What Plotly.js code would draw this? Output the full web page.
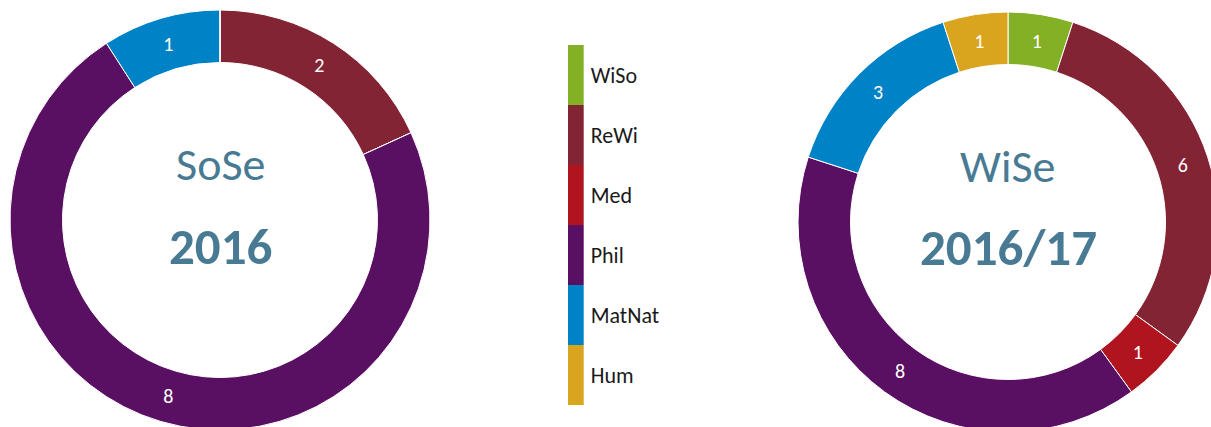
<!DOCTYPE html>
<html>
<head>
<meta charset="utf-8">
<script src="https://cdn.plot.ly/plotly-3.0.1.min.js"></script>
<style>
html,body{margin:0;padding:0;overflow:hidden;background:#fff;width:1211px;height:427px;}
#chart{width:1225px;height:440px;}
</style>
</head>
<body>
<div id="chart"></div>
<script>
// Data
const categories = ["WiSo", "ReWi", "Med", "Phil", "MatNat", "Hum"];
const colors = ["#84b026", "#832434", "#b0141e", "#590f62", "#0082c6", "#daa51e"];
const sose2016 = [0, 2, 0, 8, 1, 0];
const wise2016 = [1, 6, 1, 8, 3, 1];
const legendUnits = [1, 1, 1, 1, 1, 1];
const centerLabels = [["SoSe", "2016"], ["WiSe", "2016/17"]];

const W = 1225, H = 440;
const FONT = "Carlito, Lato, sans-serif";
const px = v => v / W;
const py = v => 1 - v / H;

function donut(values, cx, cy, r) {
  return {
    type: "pie",
    labels: categories,
    values: values,
    sort: false,
    direction: "clockwise",
    rotation: 0,
    hole: 0.75,
    marker: {colors: colors, line: {color: "#ffffff", width: 1}},
    textinfo: "value",
    textposition: "inside",
    insidetextorientation: "horizontal",
    textfont: {color: "#ffffff", size: 20, family: FONT},
    hoverinfo: "skip",
    showlegend: false,
    domain: {x: [px(cx - r), px(cx + r)], y: [py(cy + r), py(cy - r)]}
  };
}

const pies = [
  donut(sose2016, 220, 220, 210),
  donut(wise2016, 1008, 222, 210)
];

const legendBar = {
  type: "bar",
  orientation: "h",
  y: categories,
  x: legendUnits,
  marker: {color: colors, line: {width: 0}},
  xaxis: "x",
  yaxis: "y",
  hoverinfo: "skip",
  showlegend: false,
  width: 1
};

const centers = [[220, 220], [1008, 222]];
const annotations = [];
centerLabels.forEach((lab, i) => {
  const [cx, cy] = centers[i];
  annotations.push({
    xref: "paper", yref: "paper", x: px(cx), y: py(cy - 56),
    xanchor: "center", yanchor: "middle", showarrow: false,
    text: lab[0], font: {family: FONT, size: 46, color: "#487b93"}
  });
  annotations.push({
    xref: "paper", yref: "paper", x: px(cx), y: py(cy + 26),
    xanchor: "center", yanchor: "middle", showarrow: false,
    text: "<b>" + lab[1] + "</b>", font: {family: FONT, size: 51, color: "#487b93"}
  });
});

const layout = {
  width: W, height: H,
  margin: {l: 0, r: 0, t: 0, b: 0},
  paper_bgcolor: "#ffffff",
  plot_bgcolor: "rgba(0,0,0,0)",
  showlegend: false,
  bargap: 0,
  xaxis: {domain: [px(567.7), px(583.7)], range: [0, 1], visible: false, fixedrange: true},
  yaxis: {
    domain: [py(405), py(45)],
    type: "category",
    autorange: "reversed",
    side: "right",
    showgrid: false, zeroline: false, showline: false,
    ticks: "",
    ticklabelstandoff: 6,
    tickfont: {family: FONT, size: 22, color: "#1a1a1a"},
    fixedrange: true
  },
  annotations: annotations
};

Plotly.newPlot("chart", [legendBar].concat(pies), layout, {displayModeBar: false, staticPlot: true});
</script>
</body>
</html>
